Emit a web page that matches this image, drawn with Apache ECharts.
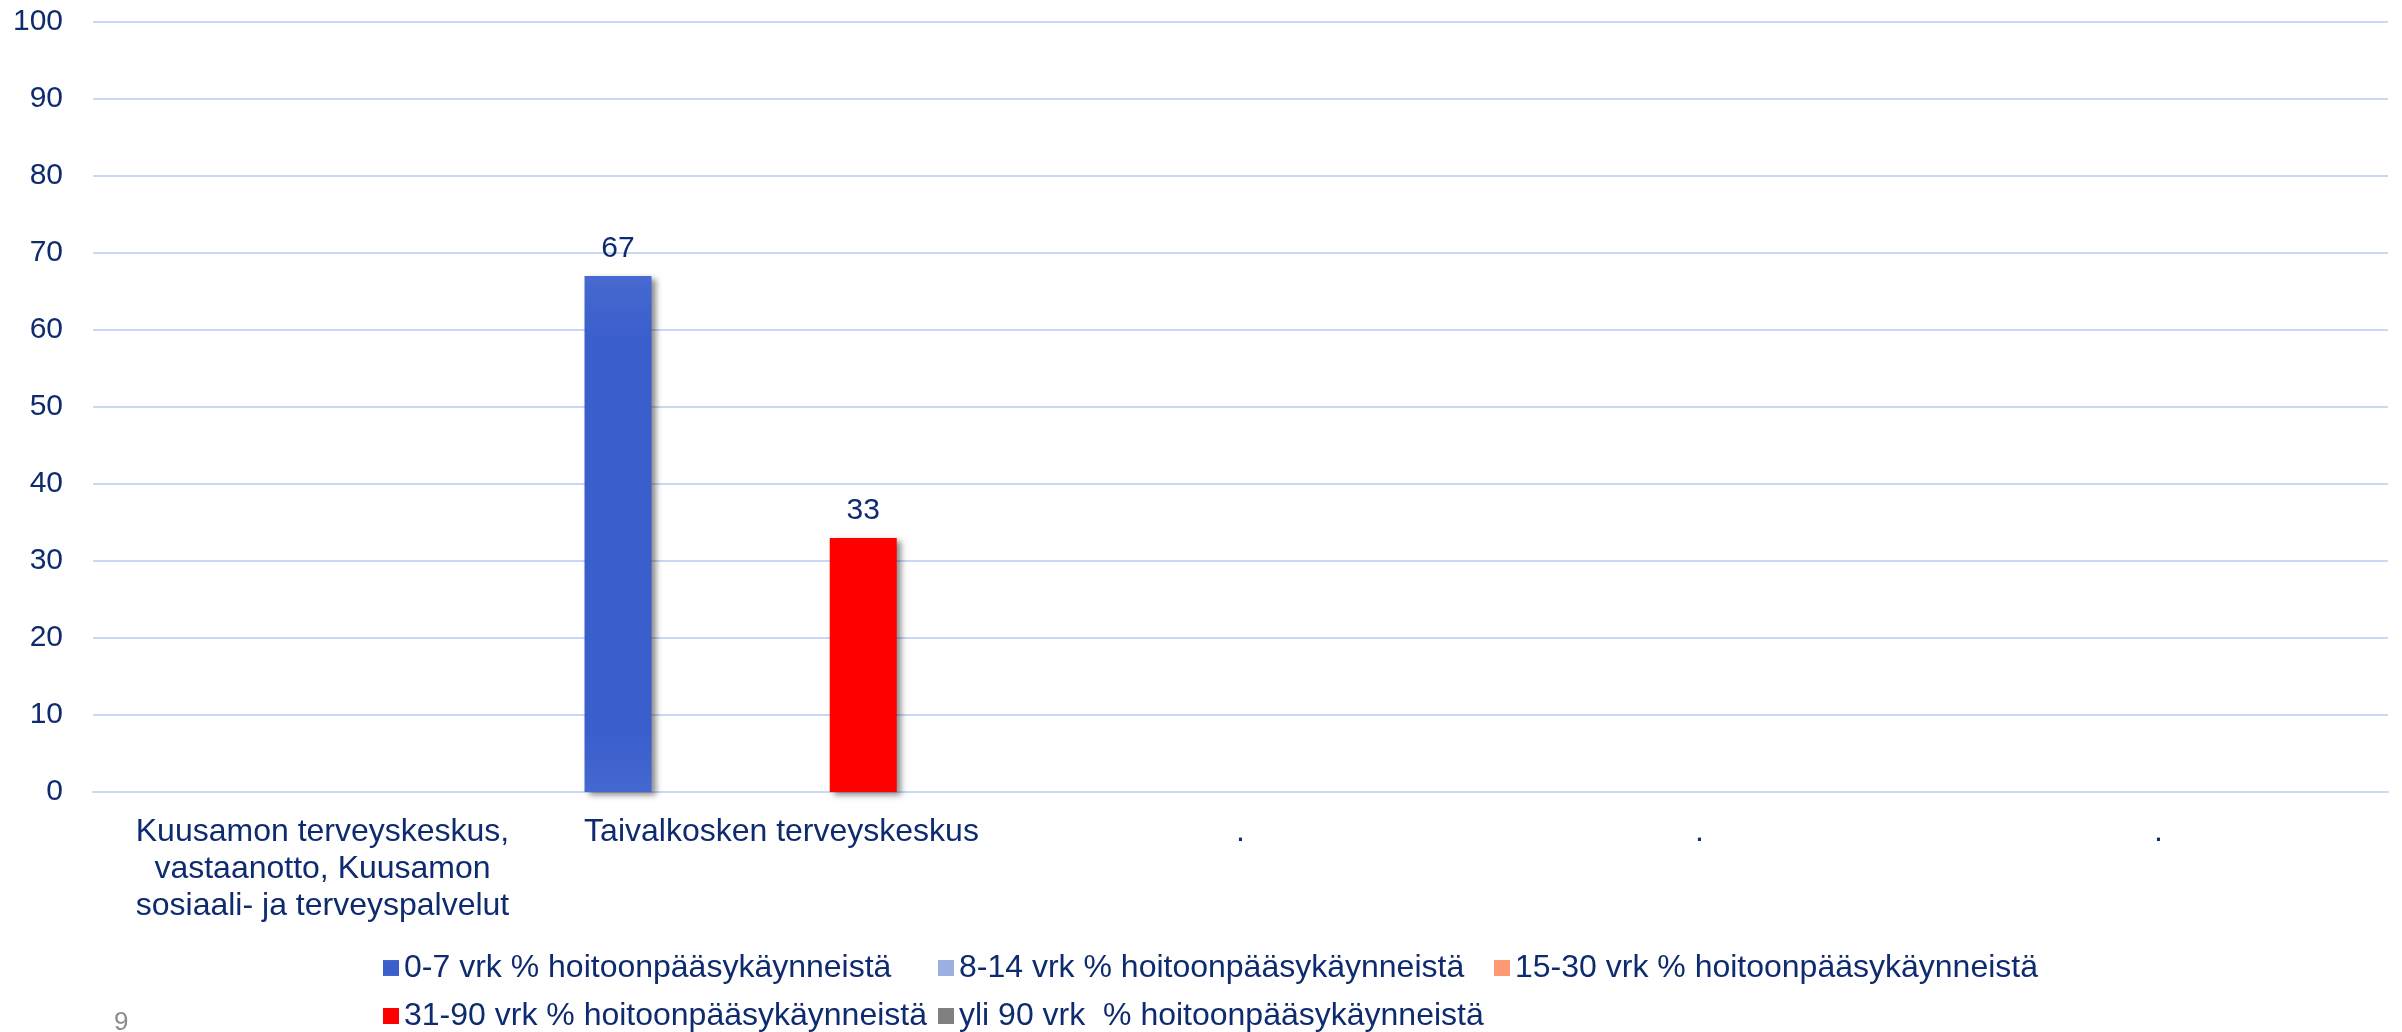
<!DOCTYPE html>
<html>
<head>
<meta charset="utf-8">
<title>Hoitoonpääsy</title>
<script src="https://cdn.jsdelivr.net/npm/echarts@6/dist/echarts.min.js"></script>
<style>
    html, body { margin: 0; padding: 0; background: #fff; }
    #chart { width: 2402px; height: 1032px; }
</style>
</head>
<body>
<div id="chart"></div>
<script>
// chart data
var categories = [
    'Kuusamon terveyskeskus,\nvastaanotto, Kuusamon\nsosiaali- ja terveyspalvelut',
    'Taivalkosken terveyskeskus',
    '.',
    '.',
    '.'
];
var seriesNames = [
    '0-7 vrk % hoitoonpääsykäynneistä',
    '8-14 vrk % hoitoonpääsykäynneistä',
    '15-30 vrk % hoitoonpääsykäynneistä',
    '31-90 vrk % hoitoonpääsykäynneistä',
    'yli 90 vrk  % hoitoonpääsykäynneistä'
];
var vrk0_7 = [null, 67, null, null, null];
var vrk8_14 = [null, null, null, null, null];
var vrk15_30 = [null, null, null, null, null];
var vrk31_90 = [null, 33, null, null, null];
var yli90 = [null, null, null, null, null];
var yTicks = [0, 10, 20, 30, 40, 50, 60, 70, 80, 90, 100];

var seriesData = [vrk0_7, vrk8_14, vrk15_30, vrk31_90, yli90];

var textColor = '#0F2B6F';
var fontFamily = '"Liberation Sans", Arial, sans-serif';
var gridColor = '#C9D8F5';

var blueFill = new echarts.graphic.LinearGradient(0, 0, 0, 1, [
    { offset: 0, color: '#4769D0' },
    { offset: 0.12, color: '#3A5ECC' },
    { offset: 0.88, color: '#3A5ECC' },
    { offset: 1, color: '#4568D0' }
]);
var colors = [blueFill, '#9DAEE3', '#FF9973', '#FF0000', '#808080'];

// legend is laid out in columns like the original
var legendLeft = [383, 938, 1494, 383, 938];
var legendTop = [952, 952, 952, 1000, 1000];

var chart = echarts.init(document.getElementById('chart'));

var series = seriesNames.map(function (name, i) {
    return {
        name: name,
        type: 'bar',
        data: seriesData[i],
        barWidth: 67,
        barGap: '22%',
        itemStyle: {
            color: colors[i],
            shadowColor: 'rgba(0, 0, 0, 0.45)',
            shadowBlur: 6,
            shadowOffsetX: 4,
            shadowOffsetY: 3
        },
        label: {
            show: true,
            position: 'top',
            distance: 12,
            color: textColor,
            fontSize: 30,
            lineHeight: 30,
            fontFamily: fontFamily
        },
        emphasis: { disabled: true }
    };
});

var legends = seriesNames.map(function (name, i) {
    return {
        data: [name],
        left: legendLeft[i],
        top: legendTop[i],
        padding: 0,
        icon: 'rect',
        itemWidth: 16,
        itemHeight: 16,
        selectedMode: false,
        itemStyle: { shadowBlur: 0, shadowOffsetX: 0, shadowOffsetY: 0 },
        textStyle: {
            color: textColor,
            fontSize: 32,
            lineHeight: 32,
            fontFamily: fontFamily
        }
    };
});

chart.setOption({
    animation: false,
    backgroundColor: '#fff',
    grid: {
        left: 93,
        right: 14,
        top: 22,
        bottom: 240
    },
    legend: legends,
    xAxis: {
        type: 'category',
        data: categories,
        axisTick: { show: false },
        axisLine: { lineStyle: { color: gridColor, width: 2 } },
        axisLabel: {
            interval: 0,
            margin: 22,
            color: textColor,
            fontSize: 32,
            lineHeight: 37,
            fontFamily: fontFamily,
            align: 'center'
        }
    },
    yAxis: {
        type: 'value',
        min: yTicks[0],
        max: yTicks[yTicks.length - 1],
        interval: 10,
        axisLine: { show: false },
        axisTick: { show: false },
        splitLine: { lineStyle: { color: gridColor, width: 2 } },
        axisLabel: {
            margin: 30,
            color: textColor,
            fontSize: 30,
            fontFamily: fontFamily
        }
    },
    graphic: [
        {
            type: 'text',
            left: 114,
            top: 1010,
            style: {
                text: '9',
                fill: '#8C8C8C',
                fontSize: 26,
                fontFamily: fontFamily
            }
        }
    ],
    series: series
});
</script>
</body>
</html>
